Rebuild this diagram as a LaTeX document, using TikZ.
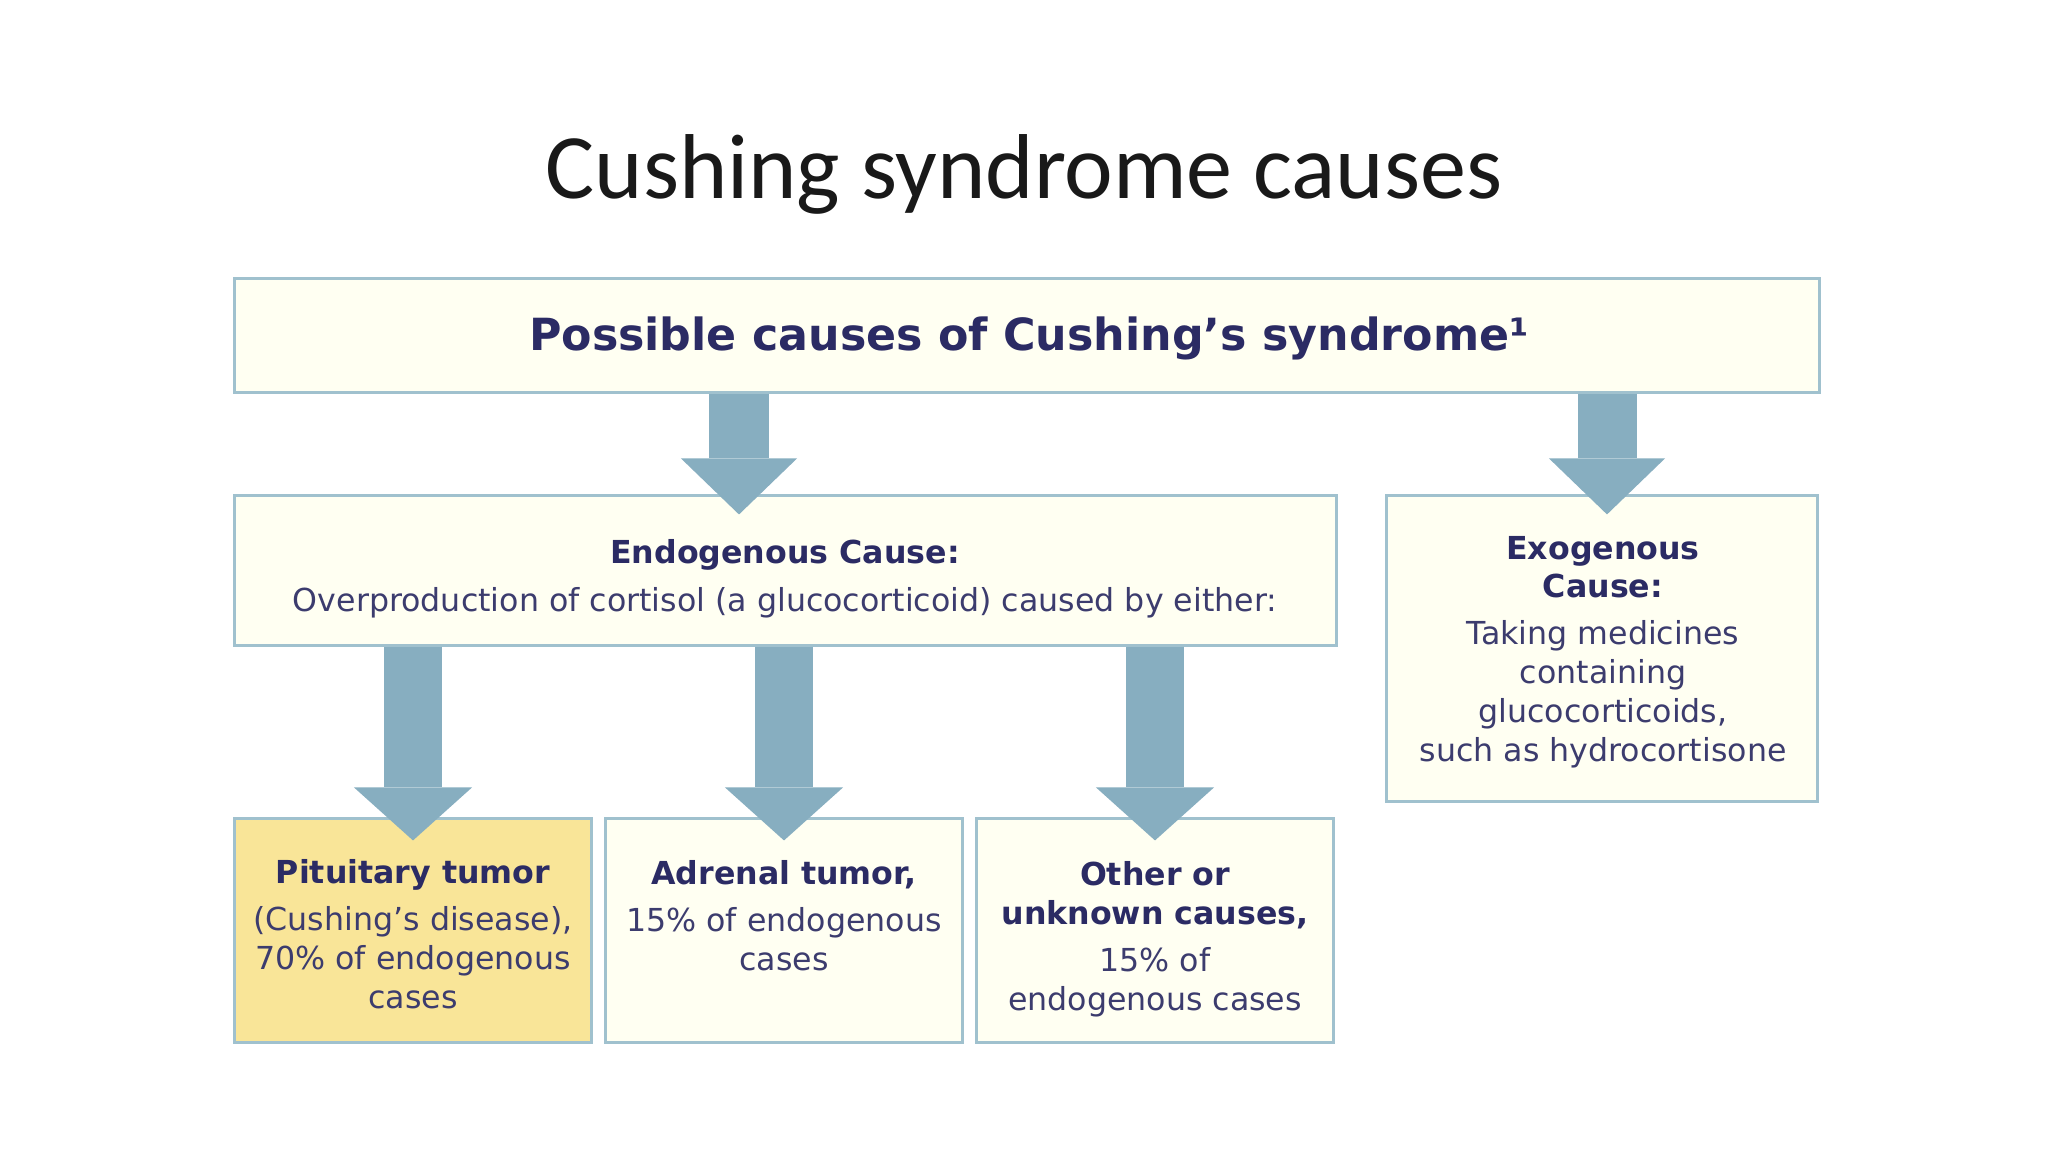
\documentclass[tikz,border=0pt]{standalone}
\usepackage{fontspec}
\setmainfont{DejaVu Sans}
\newfontfamily\titlefont{Carlito}
\usetikzlibrary{arrows.meta}
\definecolor{arrowc}{RGB}{135,174,192}
\definecolor{boxc}{RGB}{160,193,206}
\definecolor{boxfill}{RGB}{255,255,242}
\definecolor{pitfill}{RGB}{249,229,152}
\definecolor{headc}{RGB}{43,43,100}
\definecolor{bodyc}{RGB}{60,60,110}
\tikzset{
  box/.style={draw=boxc, line width=0.85pt, fill=boxfill, inner sep=0pt},
  txt/.style={font=\fontsize{9}{11}\selectfont, text=bodyc, align=center, inner sep=0pt, anchor=base},
  fatA/.style={draw=arrowc, line width=0.59cm, -{Triangle[width=1.16cm,length=0.56cm,line width=0pt]}},
  fatB/.style={draw=arrowc, line width=0.57cm, -{Triangle[width=1.18cm,length=0.53cm,line width=0pt]}},
}
\newcommand\hd[1]{\textcolor{headc}{\textbf{#1}}}
\begin{document}
\begin{tikzpicture}[x=0.01cm,y=-0.01cm]
\useasboundingbox[fill=white] (0,0) rectangle (2048,1152);
% title
\node[font=\titlefont\fontsize{26.2}{30}\selectfont, anchor=base, inner sep=0pt, text=black!90] (title) at (1024,199) {Cushing syndrome causes};
% boxes
\node[box, minimum width=15.84cm, minimum height=1.13cm] (top) at (1027,335.5) {};
\node[box, minimum width=11.01cm, minimum height=1.49cm] (endo) at (785.5,570.5) {};
\node[box, minimum width=4.30cm, minimum height=3.05cm] (exo) at (1602,648.5) {};
\node[box, fill=pitfill, minimum width=3.57cm, minimum height=2.23cm] (pit) at (413,930.5) {};
\node[box, minimum width=3.57cm, minimum height=2.23cm] (adr) at (784,930.5) {};
\node[box, minimum width=3.57cm, minimum height=2.23cm] (oth) at (1155,930.5) {};
% arrow axes
\coordinate (ax1) at (739,0);
\coordinate (ax2) at (1607,0);
% arrows
\draw[fatA] (top.south -| ax1) -- ([yshift=-0.2cm]endo.north -| ax1);
\draw[fatA] (top.south -| ax2) -- ([yshift=-0.2cm]exo.north -| ax2);
\draw[fatB] (endo.south -| pit.north) -- ([yshift=-0.23cm]pit.north);
\draw[fatB] (endo.south -| adr.north) -- ([yshift=-0.23cm]adr.north);
\draw[fatB] (endo.south -| oth.north) -- ([yshift=-0.23cm]oth.north);
% texts (anchor base = baseline of last line)
\node[txt, font=\bfseries\fontsize{12.6}{15}\selectfont, text=headc] (topT) at (1029,351) {Possible causes of Cushing’s syndrome¹};
\node[txt] (endoT) at (785,611) {\hd{Endogenous Cause:}\\[2.4pt]Overproduction of cortisol (a glucocorticoid) caused by either:};
\node[txt] (exoT) at (1603,761) {\hd{Exogenous}\\\hd{Cause:}\\[2.4pt]Taking medicines\\containing\\glucocorticoids,\\such as hydrocortisone};
\node[txt] (pitT) at (413,1008) {\hd{Pituitary tumor}\\[2.4pt](Cushing’s disease),\\70\% of endogenous\\cases};
\node[txt] (adrT) at (784,970) {\hd{Adrenal tumor,}\\[2.4pt]15\% of endogenous\\cases};
\node[txt] (othT) at (1155,1010) {\hd{Other or}\\\hd{unknown causes,}\\[2.4pt]15\% of\\endogenous cases};
\end{tikzpicture}
\end{document}
